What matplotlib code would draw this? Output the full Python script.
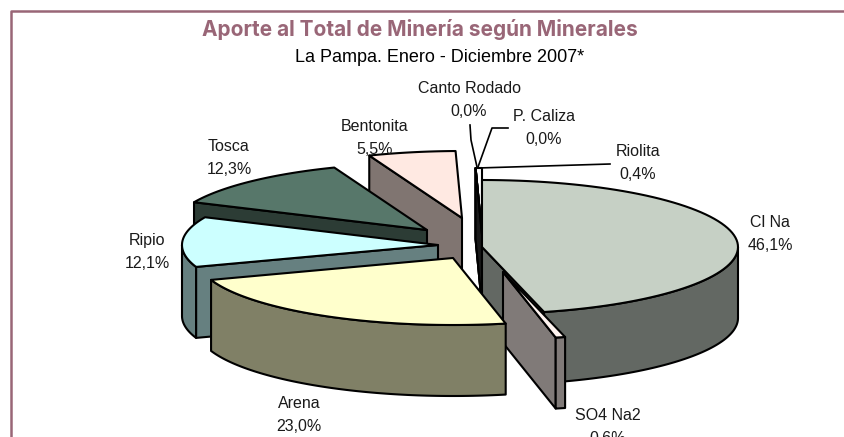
"""
Exploded 3D-look pie: mining output by mineral, La Pampa 2007.
Drawn on a pixel-sized axes, with polygons built from the slice angles.
"""
import numpy as np
import matplotlib
matplotlib.use("Agg")
import matplotlib.pyplot as plt
from matplotlib.patches import Polygon

plt.rcParams["font.family"] = ["Liberation Sans", "DejaVu Sans"]

# Data, clockwise from 12 o'clock
minerals = ["Cl Na", "SO4 Na2", "Arena", "Ripio", "Tosca", "Bentonita",
            "Canto Rodado", "P. Caliza", "Riolita"]
shares = [46.1, 0.6, 23.0, 12.1, 12.3, 5.5, 0.0, 0.0, 0.4]

# Style per slice
top_colors = ["#C6D0C5", "#FFF4F0", "#FFFFCC", "#CCFFFF", "#57776A", "#FFE9E2",
              "#333333", "#333333", "#FFFFFF"]
explode_px = [(22, -1), (43, 24), (-7, 10), (-22, -3), (-33, -18), (2, -30),
              (22, -13), (22, -13), (22, -13)]
label_pos = [(770, 234), (608, 427), (299, 415), (147, 252), (229, 158),
             (375, 138), (469, 100), (544, 128), (638, 163)]
draw_order = [5, 4, 3, 8, 6, 7, 0, 1, 2]

CX, CY = 460, 248
RX, RY = 256, 67
DEPTH = 71
FRAME = "#996677"
TEXT = "#1A1A1A"


def rim(a0, a1, ox, oy):
    """Points along the top rim between two clock angles (degrees)."""
    t = np.radians(np.linspace(a0, a1, 80))
    return np.column_stack([ox + RX * np.sin(t), oy - RY * np.cos(t)])


def shade(hex_color):
    return tuple(c * 0.5 for c in matplotlib.colors.to_rgb(hex_color))


def draw_slice(ax, a0, a1, ox, oy, color, z):
    wall = shade(color)
    kw = dict(edgecolor="black", lw=1.5, joinstyle="round")
    down = np.array([0, DEPTH])

    # cut faces first, only the ones turned to the viewer
    if np.sin(np.radians(a0)) < 0:
        p = rim(a0, a0, ox, oy)[:1]
        ax.add_patch(Polygon(np.vstack([[ox, oy], p, p + down, [[ox, oy + DEPTH]]]),
                             facecolor=wall, zorder=z, **kw))
    if np.sin(np.radians(a1)) > 0:
        p = rim(a1, a1, ox, oy)[:1]
        ax.add_patch(Polygon(np.vstack([[ox, oy], p, p + down, [[ox, oy + DEPTH]]]),
                             facecolor=wall, zorder=z, **kw))

    # curved outer wall, front half only
    lo, hi = max(a0, 90), min(a1, 270)
    if hi > lo:
        arc = rim(lo, hi, ox, oy)
        ax.add_patch(Polygon(np.vstack([arc, arc[::-1] + down]),
                             facecolor=wall, zorder=z, **kw))

    top = np.vstack([[[ox, oy]], rim(a0, a1, ox, oy)])
    ax.add_patch(Polygon(top, facecolor=color, zorder=z, **kw))


fig = plt.figure(figsize=(8.44, 4.37), dpi=100)
fig.patch.set_facecolor("white")
ax = fig.add_axes([0, 0, 1, 1])
ax.set_xlim(0, 844); ax.set_ylim(437, 0)
ax.axis("off")

# Frame: only top and left are in the picture
ax.plot([11, 11, 844], [437, 10.5, 10.5], color=FRAME, lw=1.8, zorder=1)

# Slices
edges = np.cumsum([0] + shares) * 3.6
for z, i in enumerate(draw_order):
    dx, dy = explode_px[i]
    draw_slice(ax, edges[i], edges[i + 1], CX + dx, CY + dy, top_colors[i], 3 + z)

# Leader lines for the thin slices
ax.plot([470, 471, 477], [125, 140, 167], color="black", lw=1.2, zorder=20)
ax.plot([508, 492, 478], [128, 128, 167], color="black", lw=1.2, zorder=20)
ax.plot([610, 478], [164, 168], color="black", lw=1.2, zorder=20)

# Labels
for name, val, (x, y) in zip(minerals, shares, label_pos):
    pct = f"{val:.1f}%".replace(".", ",")
    ax.text(x, y, f"{name}\n{pct}", ha="center", va="center", fontsize=11.5, color=TEXT,
            linespacing=1.6, zorder=30)

# Titles
ax.text(420, 30, "Aporte al Total de Minería según Minerales", ha="center", va="center",
        fontsize=15, fontweight="bold", family="Inter", color=FRAME, zorder=30)
ax.text(440, 58, "La Pampa. Enero - Diciembre 2007*", ha="center", va="center",
        fontsize=13, color="black", zorder=30)

fig.savefig("out.png", dpi=100, facecolor="white")
plt.close(fig)
